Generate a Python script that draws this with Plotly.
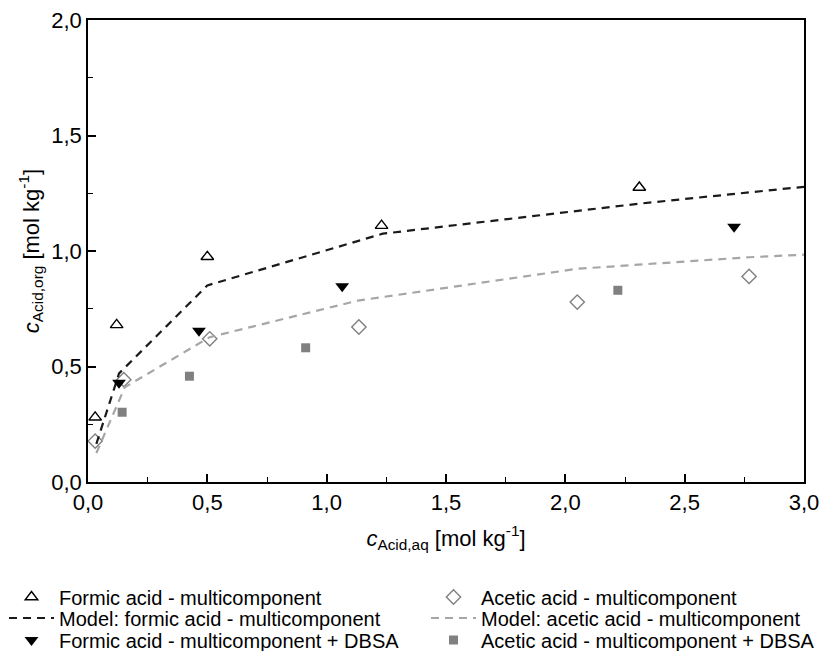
import plotly.graph_objects as go

# ---- data ----
formic_x = [0.03, 0.12, 0.50, 1.23, 2.31]
formic_y = [0.28, 0.68, 0.975, 1.11, 1.275]

acetic_x = [0.03, 0.15, 0.51, 1.135, 2.05, 2.77]
acetic_y = [0.177, 0.443, 0.62, 0.671, 0.779, 0.89]

formic_dbsa_x = [0.13, 0.465, 1.065, 2.707]
formic_dbsa_y = [0.43, 0.655, 0.847, 1.105]

acetic_dbsa_x = [0.143, 0.425, 0.912, 2.22]
acetic_dbsa_y = [0.302, 0.458, 0.581, 0.83]

model_formic_x = [0.035, 0.13, 0.50, 1.235, 2.31, 3.0]
model_formic_y = [0.165, 0.47, 0.851, 1.075, 1.205, 1.278]

model_acetic_x = [0.035, 0.154, 0.51, 1.13, 2.05, 2.77, 3.0]
model_acetic_y = [0.125, 0.41, 0.627, 0.785, 0.923, 0.973, 0.984]

names = [
    "Formic acid - multicomponent",
    "Acetic acid - multicomponent",
    "Model: formic acid - multicomponent",
    "Model: acetic acid - multicomponent",
    "Formic acid - multicomponent + DBSA",
    "Acetic acid - multicomponent + DBSA",
]

FONT = "Liberation Sans, Arial, sans-serif"
GREY_M = "#808080"
GREY_L = "#a6a6a6"

W, H = 822, 651

fig = go.Figure()

fig.add_trace(go.Scatter(
    x=formic_x, y=formic_y, mode="markers", name=names[0], legend="legend",
    marker=dict(symbol="triangle-up-open", size=11, color="black",
                line=dict(width=1.4, color="black"))))
fig.add_trace(go.Scatter(
    x=acetic_x, y=acetic_y, mode="markers", name=names[1], legend="legend2",
    marker=dict(symbol="diamond-open", size=11, color=GREY_M,
                line=dict(width=1.4, color=GREY_M))))
fig.add_trace(go.Scatter(
    x=model_formic_x, y=model_formic_y, mode="lines", name=names[2], legend="legend3",
    line=dict(color="#1a1a1a", width=2.2, dash="8px,6px")))
fig.add_trace(go.Scatter(
    x=model_acetic_x, y=model_acetic_y, mode="lines", name=names[3], legend="legend4",
    line=dict(color=GREY_L, width=2.2, dash="8px,6px")))
fig.add_trace(go.Scatter(
    x=formic_dbsa_x, y=formic_dbsa_y, mode="markers", name=names[4], legend="legend5",
    marker=dict(symbol="triangle-down", size=12, color="black")))
fig.add_trace(go.Scatter(
    x=acetic_dbsa_x, y=acetic_dbsa_y, mode="markers", name=names[5], legend="legend6",
    marker=dict(symbol="square", size=9, color=GREY_M)))

axis_common = dict(
    showline=True, linecolor="black", linewidth=1.6, mirror=True,
    ticks="inside", ticklen=8, tickwidth=1.6, tickcolor="black",
    showgrid=False, zeroline=False, tickformat=".1f", ticklabeloverflow="allow",
    tickfont=dict(family=FONT, size=22, color="black"),
    minor=dict(ticks="inside", ticklen=5, tickwidth=1.4, tickcolor="black", dtick=0.25),
)

fig.update_xaxes(range=[0, 3.0], dtick=0.5, tick0=0,
                 title=dict(text="<i>c</i><sub>Acid,aq</sub> [mol kg<sup>-1</sup>]",
                            font=dict(family=FONT, size=22, color="black"), standoff=16),
                 **axis_common)
fig.update_yaxes(range=[0, 2.0], dtick=0.5, tick0=0,
                 title=dict(text="<i>c</i><sub>Acid,org</sub> [mol kg<sup>-1</sup>]",
                            font=dict(family=FONT, size=22, color="black"), standoff=6),
                 **axis_common)


def leg(xpx, ypx):
    return dict(
        orientation="h", xref="container", yref="container",
        x=xpx / W, xanchor="left",
        y=1 - ypx / H, yanchor="middle", itemwidth=45,
        font=dict(family=FONT, size=20, color="black"), bgcolor="rgba(0,0,0,0)",
    )


col1, col2 = 4, 426
rows = [597, 618, 640]

fig.update_layout(
    width=W, height=H,
    margin=dict(l=88, r=18, t=20, b=169, autoexpand=False),
    paper_bgcolor="white", plot_bgcolor="white",
    separators=",.",
    showlegend=True,
    legend=leg(col1, rows[0]),
    legend2=leg(col2, rows[0]),
    legend3=leg(col1, rows[1]),
    legend4=leg(col2, rows[1]),
    legend5=leg(col1, rows[2]),
    legend6=leg(col2, rows[2]),
)

fig.write_html("out.html", config={"displayModeBar": False},
               post_script="document.body.style.margin='0';document.body.style.overflow='hidden';")
